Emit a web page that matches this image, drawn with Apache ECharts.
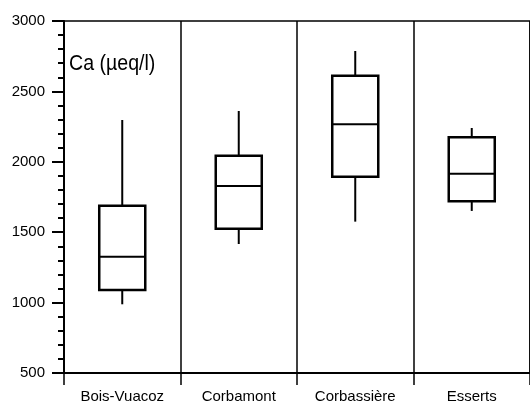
<!DOCTYPE html>
<html><head><meta charset="utf-8">
<script src="https://cdn.jsdelivr.net/npm/echarts@6/dist/echarts.min.js"></script>
<style>html,body{margin:0;padding:0;background:#fff}#c{width:530px;height:405px}</style>
</head><body><div id="c"></div>
<script>
const categories = ['Bois-Vuacoz', 'Corbamont', 'Corbassière', 'Esserts'];
// [lower whisker, Q1, median, Q3, upper whisker]
const whiskerLow = [988, 1416, 1575, 1651];
const q1 = [1090, 1525, 1894, 1719];
const median = [1326, 1828, 2266, 1916];
const q3 = [1688, 2043, 2612, 2174];
const whiskerHigh = [2297, 2361, 2787, 2240];
const yTicks = [500, 1000, 1500, 2000, 2500, 3000];
const unitLabel = 'Ca (µeq/l)';

const FONT = '"Liberation Sans", Arial, sans-serif';
const data = categories.map((c, i) => [i, whiskerLow[i], q1[i], median[i], q3[i], whiskerHigh[i]]);

const chart = echarts.init(document.getElementById('c'), null, {renderer: 'canvas'});
chart.setOption({
  animation: false,
  backgroundColor: '#fff',
  grid: {left: 64, top: 21, right: -4, bottom: 32, show: true, borderColor: '#000', borderWidth: 1.5},
  xAxis: {
    type: 'category', data: categories, boundaryGap: true,
    axisLine: {lineStyle: {color: '#000', width: 2}},
    axisTick: {show: true, length: 12, lineStyle: {color: '#000', width: 1.5}},
    splitLine: {show: true, lineStyle: {color: '#000', width: 1.5}},
    axisLabel: {color: '#000', fontFamily: FONT, fontSize: 15, margin: 16}
  },
  yAxis: {
    type: 'value', min: yTicks[0], max: yTicks[yTicks.length - 1], interval: 500,
    axisLine: {show: true, lineStyle: {color: '#000', width: 2}},
    axisTick: {show: true, length: 12, lineStyle: {color: '#000', width: 2}},
    minorTick: {show: true, splitNumber: 5, length: 6, lineStyle: {color: '#000', width: 2}},
    splitLine: {show: false},
    axisLabel: {color: '#000', fontFamily: FONT, fontSize: 15, margin: 19, formatter: function (v) { return String(v); }}
  },
  graphic: [{type: 'text', left: 69, top: 53, scaleX: 0.89, originX: 0, style: {text: unitLabel, font: '22px ' + FONT, fill: '#000'}}],
  series: [{
    type: 'custom',
    data: data,
    renderItem: function (params, api) {
      const x = api.value(0);
      const pLow = api.coord([x, api.value(1)]);
      const pQ1 = api.coord([x, api.value(2)]);
      const pMed = api.coord([x, api.value(3)]);
      const pQ3 = api.coord([x, api.value(4)]);
      const pHigh = api.coord([x, api.value(5)]);
      const w = api.size([1, 0])[0] * 0.395;
      const cx = pMed[0];
      const st = {stroke: '#000', lineWidth: 2, fill: null};
      return {
        type: 'group',
        children: [
          {type: 'line', shape: {x1: cx, y1: pHigh[1], x2: cx, y2: pQ3[1]}, style: st},
          {type: 'line', shape: {x1: cx, y1: pQ1[1], x2: cx, y2: pLow[1]}, style: st},
          {type: 'rect', shape: {x: cx - w / 2, y: pQ3[1], width: w, height: pQ1[1] - pQ3[1]}, style: {stroke: '#000', lineWidth: 2.5, fill: '#fff'}},
          {type: 'line', shape: {x1: cx - w / 2, y1: pMed[1], x2: cx + w / 2, y2: pMed[1]}, style: st}
        ]
      };
    }
  }]
});
</script></body></html>
